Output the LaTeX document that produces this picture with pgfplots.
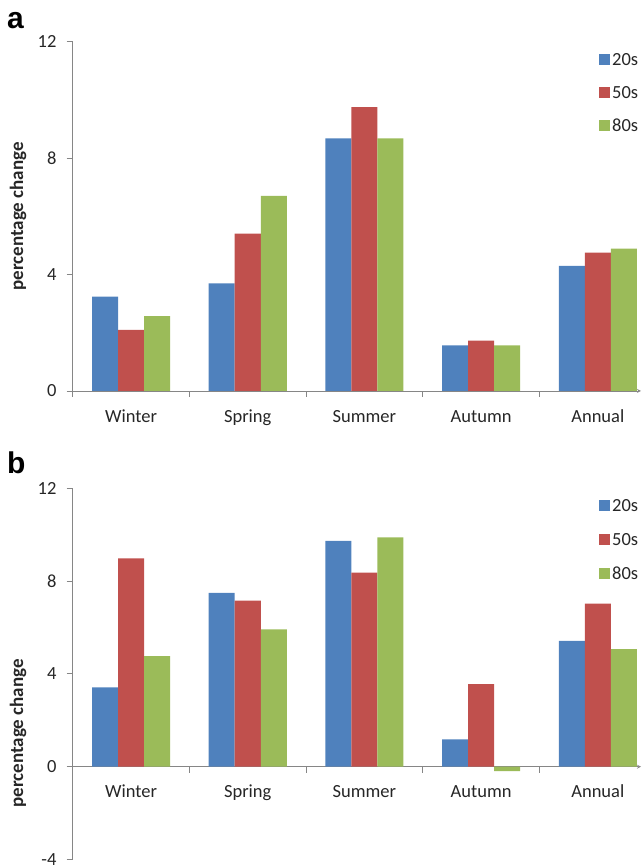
\documentclass[border=0pt]{standalone}
\usepackage{pgfplots}
\pgfplotsset{compat=1.18}
\usepackage{fontspec}
\setmainfont{Carlito}
\newfontfamily\panelfont{Liberation Sans}
\definecolor{cblue}{HTML}{4F81BD}
\definecolor{cred}{HTML}{C0504D}
\definecolor{cgreen}{HTML}{9BBB59}
\definecolor{axgray}{HTML}{868686}
\definecolor{txt}{HTML}{262626}
\pgfplotsset{
  common/.style={
    scale only axis, width=568.3pt,
    xmin=-0.5, xmax=4.37, enlargelimits=false,
    ybar, bar width=0.223,
    /pgf/number format/assume math mode=true,
    axis y line=left,
    axis line style={axgray, line width=0.8pt, -},
    every tick/.style={axgray, line width=0.8pt},
    tick align=outside,
    xtick={0,1,2,3,4},
    xticklabels={Winter,Spring,Summer,Autumn,Annual},
    major x tick style={draw=none},
    extra x ticks={-0.5,0.5,1.5,2.5,3.5},
    extra x tick labels={},
    extra x tick style={major tick length=6pt, tick align=outside, major x tick style={draw=axgray}},
    major tick length=6pt,
    ticklabel style={font=\fontsize{18.5}{20}\selectfont, color=txt},
    xticklabel style={text height=12pt, text depth=3pt, inner sep=0pt, anchor=north, yshift=-16pt},
    yticklabel style={inner sep=0pt, anchor=east, xshift=-10pt},
    ylabel={percentage change},
    legend image code/.code={\fill[#1] (0pt,-5.5pt) rectangle (11pt,5.5pt);},
    legend style={draw=none, fill=none, anchor=north west, inner sep=0pt,
      font=\fontsize{18.5}{20}\selectfont, text=txt, row sep=17pt,
      nodes={inner sep=2pt, text height=12pt, text depth=0pt}},
    legend cell align=left,
  }
}
\begin{document}
\begin{tikzpicture}
\useasboundingbox (0,0) rectangle (641pt,868pt);
\node[anchor=base west, inner sep=0pt, font=\panelfont\bfseries\fontsize{30}{32}\selectfont] at (7pt,839pt) {a};
\node[anchor=base west, inner sep=0pt, font=\panelfont\bfseries\fontsize{30}{32}\selectfont] at (7pt,394pt) {b};
\begin{axis}[common, at={(72.7pt,477pt)}, anchor=south west, height=349.3pt,
  ymin=0, ymax=12, ytick={0,4,8,12}, axis x line=bottom,
  every axis y label/.style={at={(axis description cs:0,0.5)}, xshift=-54.7pt, anchor=center, rotate=90,
    font=\bfseries\fontsize{19}{21}\selectfont, color=txt},
  legend style={at={(axis description cs:0.926,0.973)}}]
\addplot[fill=cblue, draw=none, bar shift=-0.223] coordinates {(0,3.24) (1,3.70) (2,8.68) (3,1.57) (4,4.30)};
\addplot[fill=cred, draw=none, bar shift=0] coordinates {(0,2.10) (1,5.41) (2,9.75) (3,1.73) (4,4.75)};
\addplot[fill=cgreen, draw=none, bar shift=0.223] coordinates {(0,2.57) (1,6.70) (2,8.68) (3,1.57) (4,4.89)};
\legend{20s,50s,80s}
\end{axis}
\begin{axis}[common, at={(72.7pt,8.5pt)}, anchor=south west, height=371.2pt,
  ymin=-4, ymax=12, ytick={-4,0,4,8,12}, axis x line=middle,
  every axis y label/.style={at={(axis description cs:0,0.34)}, xshift=-54.7pt, anchor=center, rotate=90,
    font=\bfseries\fontsize{19}{21}\selectfont, color=txt},
  legend style={at={(axis description cs:0.926,0.975)}, row sep=18pt}]
\addplot[fill=cblue, draw=none, bar shift=-0.223] coordinates {(0,3.42) (1,7.49) (2,9.73) (3,1.18) (4,5.42)};
\addplot[fill=cred, draw=none, bar shift=0] coordinates {(0,8.98) (1,7.16) (2,8.36) (3,3.56) (4,7.03)};
\addplot[fill=cgreen, draw=none, bar shift=0.223] coordinates {(0,4.77) (1,5.92) (2,9.89) (3,-0.19) (4,5.07)};
\legend{20s,50s,80s}
\end{axis}
\end{tikzpicture}
\end{document}
